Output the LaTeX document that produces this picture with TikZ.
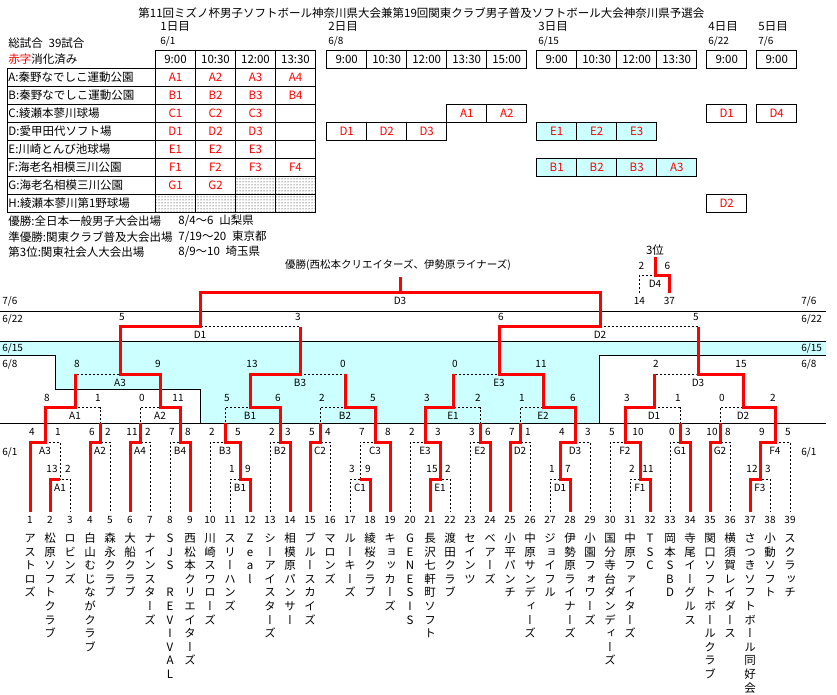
\documentclass[tikz,border=0pt]{standalone}
\usepackage{fontspec}
\setmainfont{Noto Sans CJK JP}
\newfontfamily\tatefont[RawFeature=+vert]{Noto Sans CJK JP}
\usepackage{xcolor}
\usetikzlibrary{matrix,patterns}
\definecolor{cellcyan}{HTML}{CCFFFF}
\newcommand\tate[1]{\vbox{\tatefont\baselineskip=13.6pt\expandafter\tateA#1\relax}}
\def\tateA#1{\ifx\relax#1\else\hbox to 12pt{\hss#1\hss\rule{0pt}{10pt}}\expandafter\tateA\fi}

\begin{document}
\begin{tikzpicture}[x=1pt, y=-1pt, line width=.8pt,
  every node/.style={font=\fontsize{11.5}{14}\selectfont, inner sep=1pt},
  cell/.style={draw, minimum width=40pt, minimum height=18pt},
  done/.style={cell, text=red},
  num/.style={font=\fontsize{10}{12}\selectfont},
  teamno/.style={num, minimum height=16pt},
  teamname/.style={anchor=north, inner sep=0pt},
  glabel/.style={num, yshift=-8.5pt},
  score/.style={num, yshift=10pt},
  daylabel/.style={num, anchor=west},
  loss/.style={line width=.7pt, dash pattern=on 2pt off 2pt},
  win/.style={red, line width=3pt}]
\useasboundingbox (0,0) rectangle (837,695);

\node[anchor=west] (title) at (137,13) {第11回ミズノ杯男子ソフトボール神奈川県大会兼第19回関東クラブ男子普及ソフトボール大会神奈川県予選会};
\node[anchor=west] (total) at (7,43) {総試合\enspace 39試合};
\foreach \k/\x/\m/\dd in {1/159/6/1, 2/327/6/8, 3/537/6/15, 4/707/6/22, 5/757/7/6} {
  \node[anchor=west] (day\k) at (\x,26) {\k{}日目};
  \node[daylabel] (date\k) at (\x,41) {\m/\dd};
}

% schedule, day 1
\matrix[matrix of nodes, nodes in empty cells, anchor=north west, inner sep=0pt,
  column sep=-\pgflinewidth, row sep=-\pgflinewidth,
  nodes={draw, anchor=center, minimum width=40pt, minimum height=18pt, inner sep=1pt, text=red},
  column 1/.style={nodes={text width=146pt, align=left, text=black}},
  row 1/.style={nodes={text=black}}] (day1) at (6.7,49.3) {
|[draw=none]|{\color{red}赤字}消化済み & 9:00 & 10:30 & 12:00 & 13:30 \\
A:秦野なでしこ運動公園 & A1 & A2 & A3 & A4 \\
B:秦野なでしこ運動公園 & B1 & B2 & B3 & B4 \\
C:綾瀬本蓼川球場 & C1 & C2 & C3 & \\
D:愛甲田代ソフト場 & D1 & D2 & D3 & \\
E:川崎とんび池球場 & E1 & E2 & E3 & \\
F:海老名相模三川公園 & F1 & F2 & F3 & F4 \\
G:海老名相模三川公園 & G1 & G2 & |[pattern=dots]| & |[pattern=dots]| \\
H:綾瀬本蓼川第1野球場 & |[pattern=dots]| & |[pattern=dots]| & |[pattern=dots]| & |[pattern=dots]| \\
};

% schedule, days 2-5
\foreach \x/\tm [count=\i] in {346.7/9:00, 386.7/10:30, 426.7/12:00, 466.7/13:30, 506.7/15:00,
    556.7/9:00, 596.7/10:30, 636.7/12:00, 676.7/13:30, 726.7/9:00, 776.7/9:00}
  \node[cell] (h\i) at (\x,0 |- day1-1-2) {\tm};
\foreach \x/\row/\code [count=\i] in {466.7/4/A1, 506.7/4/A2, 346.7/5/D1, 386.7/5/D2, 426.7/5/D3,
    726.7/4/D1, 776.7/4/D4, 726.7/9/D2}
  \node[done] (g\i) at (\x,0 |- day1-\row-1) {\code};
\foreach \x/\row/\code [count=\i] in {556.7/5/E1, 596.7/5/E2, 636.7/5/E3,
    556.7/7/B1, 596.7/7/B2, 636.7/7/B3, 676.7/7/A3}
  \node[done, fill=cellcyan] (c\i) at (\x,0 |- day1-\row-1) {\code};

\node[anchor=west] (prize1) at (7,221) {優勝:全日本一般男子大会出場};
\node[anchor=west] (prize1d) at (177,221) {8/4～6\enspace 山梨県};
\node[anchor=west] (prize2) at (7,237) {準優勝:関東クラブ普及大会出場};
\node[anchor=west] (prize2d) at (177,237) {7/19～20\enspace 東京都};
\node[anchor=west] (prize3) at (7,252) {第3位:関東社会人大会出場};
\node[anchor=west] (prize3d) at (177,252) {8/9～10\enspace 埼玉県};

% day bands
\fill[cellcyan] (0,341) -- (826,341) -- (826,355) -- (599,355) -- (599,423.3) -- (200,423.3)
  -- (200,389) -- (55.7,389) -- (55.7,355) -- (0,355) -- cycle;
\draw (0,311.7) -- (826,311.7) (0,341) -- (826,341) (0,423.3) -- (826,423.3);
\draw (0,355) -- (55.7,355) -- (55.7,389) -- (200,389) -- (200,423.3);
\draw (826,355) -- (599,355) -- (599,423.3);
\coordinate (line61) at (0,423.3);
\foreach \m/\dd/\y in {7/6/301.7, 6/22/319, 6/15/348.7, 6/8/364.7, 6/1/452} {
  \node[daylabel] (dl\m\dd) at (1,\y) {\m/\dd};
  \node[daylabel] (dr\m\dd) at (800,\y) {\m/\dd};
}

% teams
\foreach \i in {1,...,39}
  \node[teamno] (t\i) at (10+20*\i,520) {\i};
\foreach \n [count=\i] in {アストロズ, 松原ソフトクラブ, ロビンズ, 白山むじながクラブ, 森永クラブ,
    大船クラブ, ナインスターズ, SJS\space REVIVAL, 西松本クリエイターズ, 川崎スワローズ,
    スリーハンズ, Zeal, シーアイスターズ, 相模原パンサー, ブルースカイズ, マロンズ, ルーキーズ,
    綾桜クラブ, キョッカーズ, GENESIS, 長沢七軒町ソフト, 渡田クラブ, セインツ, ベアーズ,
    小平パンチ, 中原サンディーズ, ジョイフル, 伊勢原ライナーズ, 小園フォワーズ,
    国分寺台ダンディーズ, 中原ファイターズ, TSC, 岡本SBD, 寺尾イーグルス,
    関口ソフトボールクラブ, 横須賀レイダース, さつきソフトボール同好会, 小動ソフト, スクラッチ}
  \node[teamname] (n\i) at (10+20*\i,532) {\tate{\n}};
\node[teamno] (p14) at (639.3,301) {14};
\node[teamno] (p37) at (669.3,301) {37};
\node (third) at (655,250) {3位};
\node[font=\fontsize{10.5}{12}\selectfont, inner ysep=6pt] (champ) at (398,265)
  {優勝(西松本クリエイターズ、伊勢原ライナーズ)};

% games
\foreach \gid/\x/\y in {d1A1/60/479.3, d1A3/45/442.3, d1A2/100/442.3, d1A4/140/442.3, d1B4/180/442.3,
    d1B1/240/479.3, d1B3/225/442.3, d1B2/280/442.3, d1C2/320/442.3, d1C1/360/479.3, d1C3/375/442.3,
    d1E1/440/479.3, d1E3/425/442.3, d1E2/480/442.3, d1D2/520/442.3, d1D1/560/479.3, d1D3/575/442.3,
    d1F1/640/479.3, d1F2/625/442.3, d1G1/680/442.3, d1G2/720/442.3, d1F3/760/479.3, d1F4/775/442.3,
    d2A1/75/407.7, d2A2/160/407.7, d3B1/250/407.7, d3B2/345/407.7,
    d3E1/453/407.7, d3E2/543/407.7, d2D1/654/407.7, d2D2/743/407.7,
    d3A3/120/374, d3B3/300/374, d3E3/499/374, d2D3/698/374,
    d4D1/200/326.7, d4D2/600/326.7, d5D3/400/292.3, d5D4/655/275.7}
  \coordinate (\gid) at (\x,\y);
\foreach \gid/\glab/\gleft/\gright/\sca/\scb in {
    d1A1/A1/t2/t3/13/2, d1A3/A3/t1/d1A1/4/1, d1A2/A2/t4/t5/6/2, d1A4/A4/t6/t7/11/2,
    d1B4/B4/t8/t9/7/8, d1B1/B1/t11/t12/1/9, d1B3/B3/t10/d1B1/2/5, d1B2/B2/t13/t14/2/3,
    d1C2/C2/t15/t16/5/4, d1C1/C1/t17/t18/3/9, d1C3/C3/d1C1/t19/7/8, d1E1/E1/t21/t22/15/2,
    d1E3/E3/t20/d1E1/2/3, d1E2/E2/t23/t24/3/6, d1D2/D2/t25/t26/7/1, d1D1/D1/t27/t28/1/7,
    d1D3/D3/d1D1/t29/4/3, d1F1/F1/t31/t32/2/11, d1F2/F2/t30/d1F1/5/10, d1G1/G1/t33/t34/0/3,
    d1G2/G2/t35/t36/10/8, d1F3/F3/t37/t38/12/3, d1F4/F4/d1F3/t39/9/5,
    d2A1/A1/d1A3/d1A2/8/1, d2A2/A2/d1A4/d1B4/0/11, d3B1/B1/d1B3/d1B2/5/6, d3B2/B2/d1C2/d1C3/2/5,
    d3E1/E1/d1E3/d1E2/3/2, d3E2/E2/d1D2/d1D3/1/6, d2D1/D1/d1F2/d1G1/3/1, d2D2/D2/d1G2/d1F4/0/2,
    d3A3/A3/d2A1/d2A2/8/9, d3B3/B3/d3B1/d3B2/13/0, d3E3/E3/d3E1/d3E2/0/11, d2D3/D3/d2D1/d2D2/2/15,
    d4D1/D1/d3A3/d3B3/5/3, d4D2/D2/d3E3/d2D3/6/5, d5D4/D4/p14/p37/2/6} {
  \draw[loss] (\gleft) |- (\gid) -| (\gright);
  \node[glabel] (\gid-lab) at (\gid) {\glab};
  \node[score, xshift=2pt] (\gid-a) at (\gleft |- \gid) {\sca};
  \node[score, xshift=-2pt] (\gid-b) at (\gright |- \gid) {\scb};
}
\draw[loss] (d4D1) |- (d5D3) -| (d4D2);
\node[glabel] (d5D3-lab) at (d5D3) {D3};

% winners
\draw[win]
  (t1) |- (d1A3) |- (d2A1) -- (d2A1 |- d3A3)
  (t2) |- (d1A1)
  (t4) |- (d1A2) -- (d1A2 |- line61)
  (t6) |- (d1A4) -- (d1A4 |- line61)
  (t9) |- (d1B4) |- (d2A2) |- (d3A3) |- (d4D1) |- (d5D3)
  (t12) |- (d1B1) |- (d1B3) -- (d1B3 |- line61)
  (t14) |- (d1B2) |- (d3B1) |- (d3B3) -- (d3B3 |- d4D1)
  (t15) |- (d1C2) -- (d1C2 |- line61)
  (t18) |- (d1C1)
  (t19) |- (d1C3) |- (d3B2) -- (d3B2 |- d3B3)
  (t21) |- (d1E1) |- (d1E3) |- (d3E1) -- (d3E1 |- d3E3)
  (t24) |- (d1E2) -- (d1E2 |- line61)
  (t25) |- (d1D2) -- (d1D2 |- line61)
  (t28) |- (d1D1) |- (d1D3) |- (d3E2) |- (d3E3) |- (d4D2) |- (d5D3)
  (t32) |- (d1F1) |- (d1F2) |- (d2D1) -- (d2D1 |- d2D3)
  (t34) |- (d1G1) -- (d1G1 |- line61)
  (t35) |- (d1G2) -- (d1G2 |- line61)
  (t37) |- (d1F3) |- (d1F4) |- (d2D2) |- (d2D3) -- (d2D3 |- d4D2)
  (d5D3) -- (d5D3 |- champ.south)
  (p37) |- (d5D4) -- (third);
\end{tikzpicture}
\end{document}
